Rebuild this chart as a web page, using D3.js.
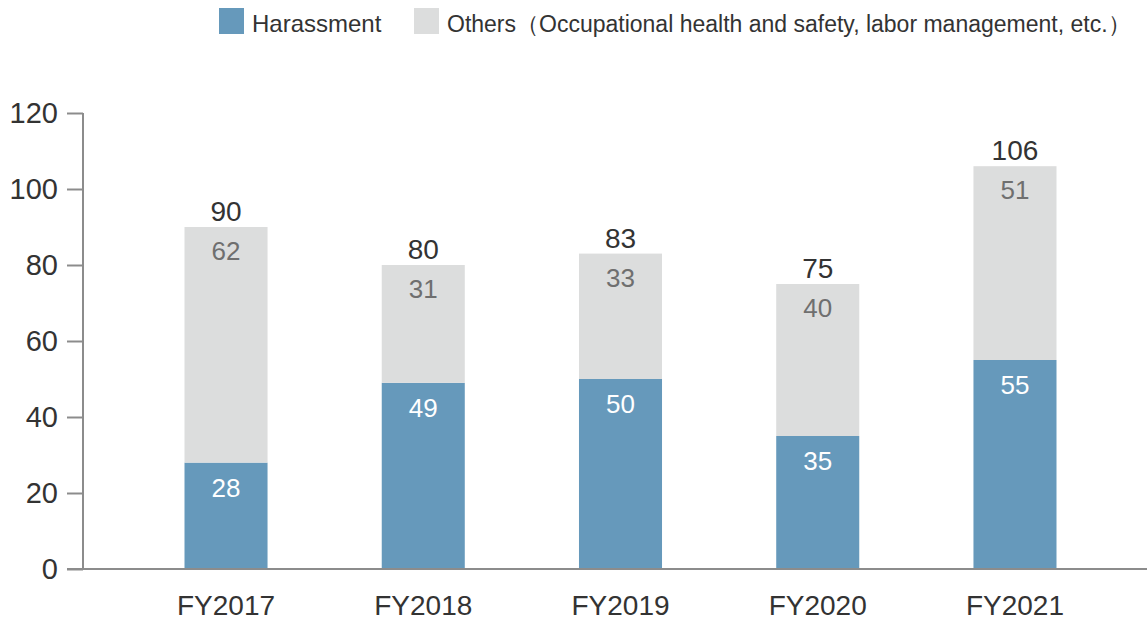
<!DOCTYPE html>
<html>
<head>
<meta charset="utf-8">
<script src="https://cdn.jsdelivr.net/npm/d3@7"></script>
<style>
  html, body { margin: 0; padding: 0; background: #fff; }
  svg { display: block; font-family: "Liberation Sans", Arial, sans-serif; }
</style>
</head>
<body>
<svg id="chart" width="1147" height="621"></svg>
<script>
// Consultations by fiscal year, split by topic
const categories = ["FY2017", "FY2018", "FY2019", "FY2020", "FY2021"];
const harassment = [28, 49, 50, 35, 55];
const others = [62, 31, 33, 40, 51];
const totals = [90, 80, 83, 75, 106];
const yTicks = [0, 20, 40, 60, 80, 100, 120];
const seriesNames = ["Harassment", "Others\uFF08Occupational health and safety, labor management, etc.\uFF09"];

const colors = { harassment: "#6699bb", others: "#dcdddd" };

const svg = d3.select("#chart");

const x = d3.scaleBand()
  .domain(categories)
  .range([127.4, 1113.6])
  .paddingInner(0.579)
  .paddingOuter(0.2895);

const y = d3.scaleLinear().domain([0, 120]).range([569, 113]);

// Stacked data
const rows = categories.map((c, i) => ({ cat: c, harassment: harassment[i], others: others[i], total: totals[i] }));
const stack = d3.stack().keys(["harassment", "others"])(rows);

// Bars
svg.append("g").selectAll("g")
  .data(stack)
  .join("g")
  .attr("fill", d => colors[d.key])
  .selectAll("rect")
  .data(d => d)
  .join("rect")
  .attr("x", d => x(d.data.cat))
  .attr("width", x.bandwidth())
  .attr("y", d => y(d[1]))
  .attr("height", d => y(d[0]) - y(d[1]));

// Y axis
const yAxis = svg.append("g")
  .attr("transform", "translate(83,0)")
  .call(d3.axisLeft(y).tickValues(yTicks).tickSize(16).tickPadding(9));
yAxis.select(".domain").attr("stroke", "#8c8c8c").attr("stroke-width", 2)
  .attr("d", `M0,${y(120)}V${y(0)}`);
yAxis.selectAll(".tick line").attr("stroke", "#8c8c8c").attr("stroke-width", 2);
yAxis.selectAll(".tick text")
  .attr("fill", "#333")
  .style("font-size", "29px")
  .style("font-family", "'Liberation Sans', Arial, sans-serif");

// Baseline
svg.append("line")
  .attr("x1", 67).attr("x2", 1147)
  .attr("y1", y(0)).attr("y2", y(0))
  .attr("stroke", "#8c8c8c").attr("stroke-width", 2);

// Category labels
svg.append("g").selectAll("text")
  .data(categories)
  .join("text")
  .attr("x", d => x(d) + x.bandwidth() / 2)
  .attr("y", 615)
  .attr("text-anchor", "middle")
  .attr("fill", "#333")
  .style("font-size", "28px")
  .text(d => d);

// Segment labels
svg.append("g").selectAll("text")
  .data(rows)
  .join("text")
  .attr("x", d => x(d.cat) + x.bandwidth() / 2)
  .attr("y", d => y(d.harassment) + 34)
  .attr("text-anchor", "middle")
  .attr("fill", "#ffffff")
  .style("font-size", "26px")
  .text(d => d.harassment);

svg.append("g").selectAll("text")
  .data(rows)
  .join("text")
  .attr("x", d => x(d.cat) + x.bandwidth() / 2)
  .attr("y", d => y(d.harassment + d.others) + 33)
  .attr("text-anchor", "middle")
  .attr("fill", "#6f6f6f")
  .style("font-size", "26px")
  .text(d => d.others);

// Totals above bars
svg.append("g").selectAll("text")
  .data(rows)
  .join("text")
  .attr("x", d => x(d.cat) + x.bandwidth() / 2)
  .attr("y", d => y(d.total) - 6)
  .attr("text-anchor", "middle")
  .attr("fill", "#333")
  .style("font-size", "28px")
  .text(d => d.total);

// Legend
const legend = svg.append("g");
const legendItems = [
  { name: seriesNames[0], color: colors.harassment, x: 219, size: 24 },
  { name: seriesNames[1], color: colors.others, x: 414, size: 23 }
];
legendItems.forEach(it => {
  legend.append("rect")
    .attr("x", it.x).attr("y", 8)
    .attr("width", 25).attr("height", 26)
    .attr("fill", it.color);
  legend.append("text")
    .attr("x", it.x + 33).attr("y", 32)
    .attr("fill", "#333")
    .style("font-size", it.size + "px")
    .text(it.name);
});
</script>
</body>
</html>
